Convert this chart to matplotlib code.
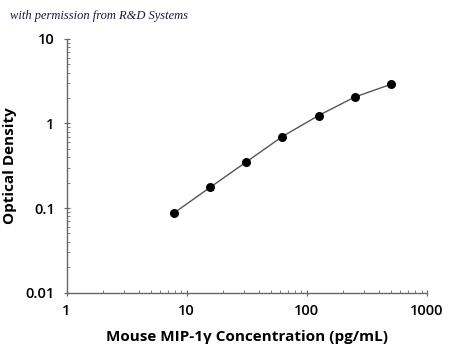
import matplotlib
matplotlib.use("Agg")
import matplotlib.pyplot as plt
from matplotlib.ticker import LogLocator, FixedLocator, FixedFormatter, NullFormatter

# standard curve data
conc = [7.8, 15.6, 31.25, 62.5, 125, 250, 500]
od = [0.087, 0.175, 0.35, 0.70, 1.24, 2.05, 2.90]

x_ticks = [1, 10, 100, 1000]
x_labels = ["1", "10", "100", "1000"]
y_ticks = [0.01, 0.1, 1, 10]
y_labels = ["0.01", "0.1", "1", "10"]

plt.rcParams['font.family'] = ['Open Sans', 'DejaVu Sans']

fig = plt.figure(figsize=(4.5, 3.5), dpi=100)
ax = fig.add_axes([0.148, 0.164, 0.801, 0.725])

ax.plot(conc, od, color="#555555", lw=1.0, zorder=2)
ax.scatter(conc, od, s=30, color="black", zorder=3)

ax.set_xscale("log")
ax.set_yscale("log")
ax.set_xlim(1, 1000)
ax.set_ylim(0.01, 10)

ax.xaxis.set_major_locator(FixedLocator(x_ticks))
ax.xaxis.set_major_formatter(FixedFormatter(x_labels))
ax.yaxis.set_major_locator(FixedLocator(y_ticks))
ax.yaxis.set_major_formatter(FixedFormatter(y_labels))
ax.xaxis.set_minor_locator(LogLocator(base=10, subs=range(2, 10)))
ax.yaxis.set_minor_locator(LogLocator(base=10, subs=range(2, 10)))
ax.xaxis.set_minor_formatter(NullFormatter())
ax.yaxis.set_minor_formatter(NullFormatter())

for s in ["top", "right"]:
    ax.spines[s].set_visible(False)
for s in ["left", "bottom"]:
    ax.spines[s].set_color("#666666")
    ax.spines[s].set_linewidth(1.0)

ax.tick_params(which="major", direction="inout", length=5, width=0.8, color="#666666",
               labelsize=10.5, pad=6)
ax.tick_params(which="minor", direction="in", length=2.5, width=0.6, color="#666666")
for lab in ax.get_xticklabels() + ax.get_yticklabels():
    lab.set_fontweight("semibold")

ax.set_xlabel("Mouse MIP-1γ Concentration (pg/mL)", fontsize=11, fontweight="bold", labelpad=8)
ax.set_ylabel("Optical Density", fontsize=11, fontweight="bold", labelpad=6)

fig.text(0.022, 0.945, "with permission from R&D Systems", fontsize=9, style="italic",
         family="Liberation Serif", color="#1a1a40")

fig.savefig("out.png", dpi=100)
